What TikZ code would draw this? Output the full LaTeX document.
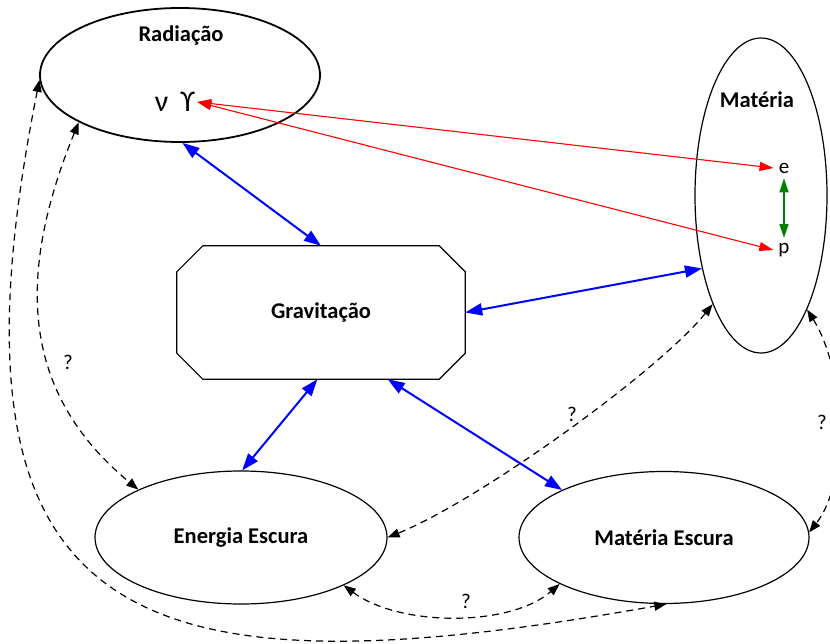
\documentclass[tikz,border=0pt]{standalone}
\usepackage{fontspec}
\setmainfont{Carlito}
\usetikzlibrary{arrows.meta,shapes.geometric}
\definecolor{gblue}{RGB}{0,0,255}
\definecolor{gred}{RGB}{255,0,0}
\definecolor{ggreen}{RGB}{0,128,0}

\begin{document}
\begin{tikzpicture}[x=1pt,y=-1pt,
  body/.style={ellipse,draw,line width=1.2pt,inner sep=0pt},
  title/.style={font=\fontsize{22.5}{26}\selectfont\bfseries},
  qmark/.style={font=\fontsize{21}{24}\selectfont},
  particle/.style={font=\fontsize{21}{24}\selectfont,inner sep=5pt},
  gravlink/.style={gblue,line width=2pt,{Triangle[length=17pt,width=12pt]}-{Triangle[length=17pt,width=12pt]}},
  radlink/.style={gred,line width=1.1pt,{Triangle[length=14pt,width=9pt]}-{Triangle[length=14pt,width=9pt]}},
  bindlink/.style={ggreen,line width=1.5pt,{Triangle[length=14pt,width=9pt]}-{Triangle[length=14pt,width=9pt]}},
  unknown/.style={line width=1.2pt,dash pattern=on 7pt off 5pt,{Triangle[length=12pt,width=9pt]}-{Triangle[length=12pt,width=9pt]}},
]
\useasboundingbox (0,0) rectangle (830,644);

% components
\node[body,line width=1.8pt,minimum width=280pt,minimum height=134pt] (rad) at (180,75) {};
\node[title] (radlabel) at (181,35) {Radiação};
\node[font=\fontsize{30}{34}\selectfont,inner sep=2pt] (sym) at (175,102) {ν\hspace{0.4em}ϒ};

\node[body,minimum width=132pt,minimum height=315pt] (mat) at (761,195.5) {};
\node[title] (matlabel) at (757,100) {Matéria};
\node[particle] (e) at (784,168) {e};
\node[particle] (p) at (784,250) {p};

% gravitation: octagon with 26pt corner cuts
\node[rectangle,minimum width=288pt,minimum height=133pt,title] (grav) at (321,312.5) {Gravitação};
\draw[line width=1.2pt]
  ([xshift=26pt]grav.north west) -- ([xshift=-26pt]grav.north east)
  -- ([yshift=-26pt]grav.north east) -- ([yshift=26pt]grav.south east)
  -- ([xshift=-26pt]grav.south east) -- ([xshift=26pt]grav.south west)
  -- ([yshift=26pt]grav.south west) -- ([yshift=-26pt]grav.north west) -- cycle;

\node[body,minimum width=292pt,minimum height=133pt,title] (ee) at (241,537.5) {Energia Escura};
\node[body,minimum width=290pt,minimum height=132pt,title] (ms) at (664,537.5) {Matéria Escura};

% gravitational couplings
\draw[gravlink] (rad.-88) -- (grav.north);
\draw[gravlink] (grav.east) -- (mat.231);
\draw[gravlink] (grav.-93) -- (ee.89);
\draw[gravlink] (grav.-45) -- (ms.155.5);

% radiation and matter
\draw[radlink] (sym.east) -- (e.west);
\draw[radlink] (sym.east) -- (p.west);
\draw[bindlink] (e.south) -- (p.north);

% unknown couplings
\draw[unknown] (rad.182) .. controls (-70,630) and (130,700) .. (ms.272);
\draw[unknown] (rad.205) .. controls (10,290) and (30,400) .. (ee.155.5);
\draw[unknown] (mat.246) .. controls (660,370) and (480,500) .. (ee.0);
\draw[unknown] (mat.292) .. controls (845,370) and (850,480) .. (ms.2);
\draw[unknown] (ee.-25) .. controls (400,627) and (510,627) .. (ms.204.5);

\node[qmark] (q1) at (68,362) {?};
\node[qmark] (q2) at (572,414) {?};
\node[qmark] (q3) at (822,422) {?};
\node[qmark] (q4) at (466,601) {?};
\end{tikzpicture}
\end{document}
